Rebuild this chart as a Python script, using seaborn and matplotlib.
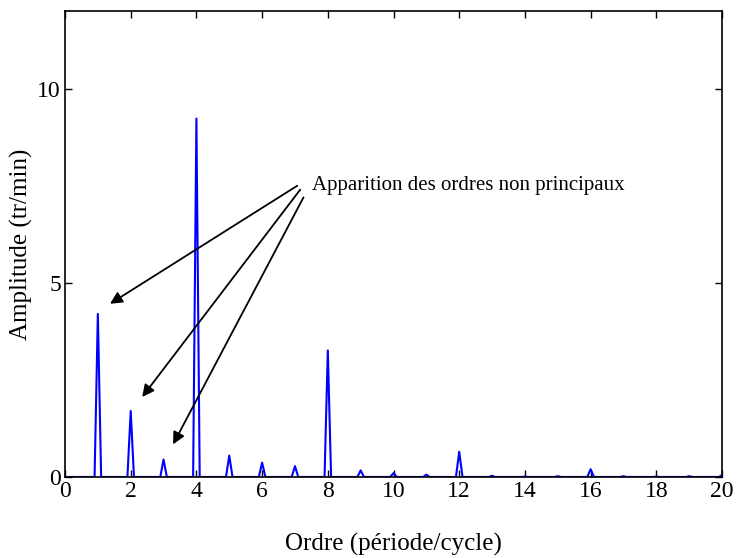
import numpy as np
import pandas as pd
import seaborn as sns
import matplotlib
matplotlib.use("Agg")
import matplotlib.pyplot as plt

# peak amplitudes, one per integer order
orders = list(range(1, 21))
amplitudes = [4.2, 1.7, 0.45, 9.23, 0.55, 0.37, 0.28, 3.26, 0.17, 0.1,
              0.06, 0.65, 0.03, 0.01, 0.02, 0.2, 0.02, 0.01, 0.02, 0.05]
resolution = 0.1  # order step of the spectrum
x_ticks = list(range(0, 21, 2))
y_ticks = [0, 5, 10]
note = "Apparition des ordres non principaux"
# arrow tips (order, amplitude) and tails
arrow_tips = [(1.37, 4.46), (2.35, 2.06), (3.29, 0.84)]
arrow_tails = [(7.07, 7.5), (7.16, 7.4), (7.26, 7.2)]

# spectrum: baseline zero, one sample at each order
grid = np.round(np.arange(0, 20 + resolution / 2, resolution), 1)
amp = np.zeros_like(grid)
for o, a in zip(orders, amplitudes):
    amp[np.argmin(np.abs(grid - o))] = a
df = pd.DataFrame({"ordre": grid, "amplitude": amp})

sns.set_style("ticks")
plt.rcParams["font.family"] = ["Liberation Serif", "DejaVu Serif"]
plt.rcParams["xtick.direction"] = "in"
plt.rcParams["ytick.direction"] = "in"
for k in ["text.color", "axes.labelcolor", "xtick.color", "ytick.color", "axes.edgecolor"]:
    plt.rcParams[k] = "black"

fig = plt.figure(figsize=(7.37, 5.58), dpi=100)
ax = fig.add_axes([0.0882, 0.1452, 0.8915, 0.8351])
sns.lineplot(data=df, x="ordre", y="amplitude", color="#0000ff", lw=1.5, ax=ax)

ax.set_xlim(0, 20)
ax.set_ylim(0, 12)
ax.set_xticks(x_ticks)
ax.set_yticks(y_ticks)
ax.tick_params(top=True, right=True, labelsize=17, length=5, width=1, pad=3)
for s in ax.spines.values():
    s.set_visible(True)
    s.set_linewidth(1.2)
ax.set_xlabel("Ordre (période/cycle)", fontsize=18, labelpad=22)
ax.set_ylabel("Amplitude (tr/min)", fontsize=18, labelpad=3)

ax.text(7.53, 7.5, note, fontsize=15, va="center", ha="left")
for tip, tail in zip(arrow_tips, arrow_tails):
    ax.annotate("", xy=tip, xytext=tail,
                arrowprops=dict(arrowstyle="-|>", color="black", lw=1.3,
                                mutation_scale=18, shrinkA=0, shrinkB=0))

fig.savefig("out.png", dpi=100)
